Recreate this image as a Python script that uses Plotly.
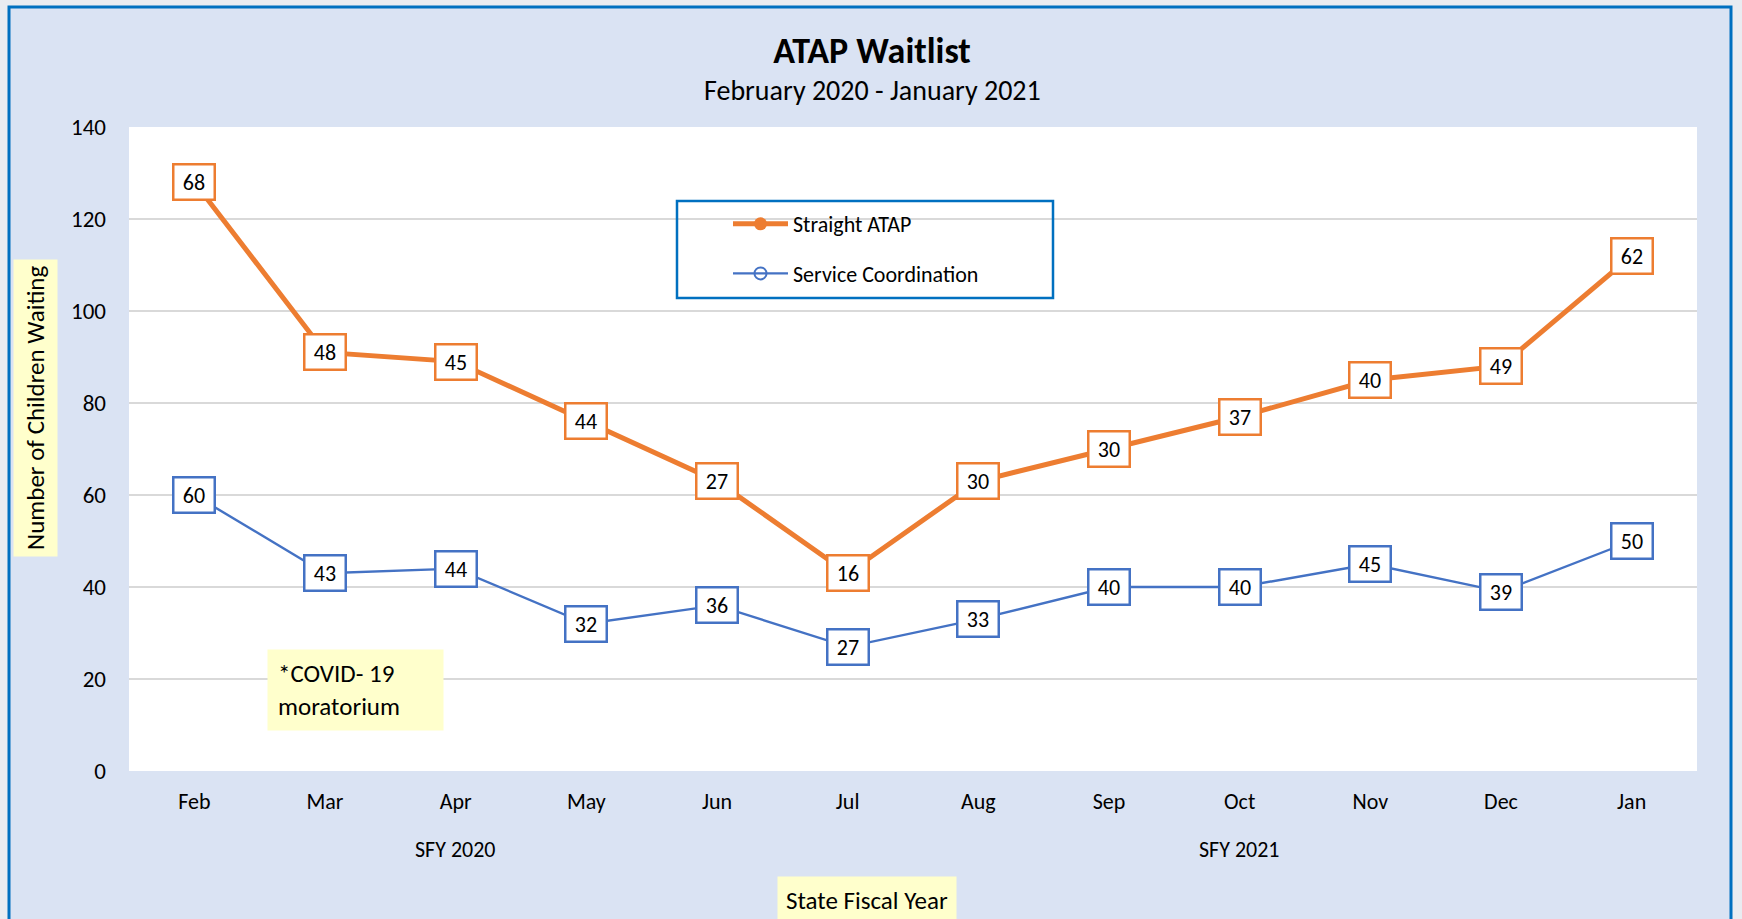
import plotly.graph_objects as go

months = ["Feb", "Mar", "Apr", "May", "Jun", "Jul", "Aug", "Sep", "Oct", "Nov", "Dec", "Jan"]
fiscal_year = ["SFY 2020"] * 5 + ["SFY 2021"] * 7
service_coordination = [60, 43, 44, 32, 36, 27, 33, 40, 40, 45, 39, 50]
straight_atap = [68, 48, 45, 44, 27, 16, 30, 30, 37, 40, 49, 62]
y_ticks = [0, 20, 40, 60, 80, 100, 120, 140]

ORANGE = "#ED7D31"
BLUE = "#4472C4"
FRAME = "#0070C0"
FONT = "Carlito, Lato, sans-serif"

W, H = 1742, 919
L, R, T, B = 129, 45, 127, 148
PW, PH = W - L - R, H - T - B


def px(xp):
    return (xp - L) / PW


def py(yp):
    return (H - B - yp) / PH


x = list(range(len(months)))
fig = go.Figure()
fig.add_trace(go.Scatter(
    x=x, y=service_coordination, name="Service Coordination", stackgroup="s", fill="none",
    mode="lines+markers", line=dict(color=BLUE, width=2.4),
    marker=dict(symbol="circle-open", size=12, color=BLUE, line=dict(width=2)),
    legendrank=2, legendgroup="b"))
fig.add_trace(go.Scatter(
    x=x, y=straight_atap, name="Straight ATAP", stackgroup="s", fill="none",
    mode="lines+markers", line=dict(color=ORANGE, width=5),
    marker=dict(symbol="circle", size=13, color=ORANGE),
    legendrank=1, legendgroup="a"))

LBL = dict(size=22, color="black", family=FONT)
ann = []
for i in x:
    b = service_coordination[i]
    o = straight_atap[i]
    ann.append(dict(x=i, y=b, xref="x", yref="y", text=str(b), showarrow=False,
                    font=LBL, bgcolor="white",
                    bordercolor=BLUE, borderwidth=2.5, borderpad=1, width=37, height=31))
    ann.append(dict(x=i, y=b + o, xref="x", yref="y", text=str(o), showarrow=False,
                    font=LBL, bgcolor="white",
                    bordercolor=ORANGE, borderwidth=2.5, borderpad=1, width=37, height=31))

# fiscal-year group labels
for g in ["SFY 2020", "SFY 2021"]:
    idx = [i for i, f in enumerate(fiscal_year) if f == g]
    ann.append(dict(x=sum(idx) / len(idx), y=py(849), xref="x", yref="paper", yanchor="middle",
                    text=g, showarrow=False, font=dict(size=22, color="black", family=FONT)))

ann.append(dict(x=px(867), y=py(901), xref="paper", yref="paper", xanchor="center", yanchor="middle",
                text="State Fiscal Year", showarrow=False, bgcolor="#FFFFCC", borderpad=8,
                font=dict(size=25, color="black", family=FONT)))
ann.append(dict(x=px(35), y=py(408), xref="paper", yref="paper", xanchor="center", yanchor="middle",
                text="Number of Children Waiting",
                textangle=-90, showarrow=False, bgcolor="#FFFFCC", borderpad=6,
                font=dict(size=25, color="black", family=FONT)))
ann.append(dict(x=px(267), y=py(649), xref="paper", yref="paper", xanchor="left", yanchor="top",
                text="*COVID- 19<br>moratorium", align="left", showarrow=False,
                bgcolor="#FFFFCC", borderpad=10, width=155, height=60,
                font=dict(size=25, color="black", family=FONT)))
ann.append(dict(x=px(872), y=py(90), xref="paper", yref="paper", xanchor="center", yanchor="middle",
                text="February 2020 - January 2021", showarrow=False,
                font=dict(size=28, color="black", family=FONT)))

shapes = [
    dict(type="rect", xref="paper", yref="paper", layer="below",
         x0=px(9), x1=px(1731), y0=py(930), y1=py(7),
         fillcolor="#DAE3F3", line=dict(color=FRAME, width=3)),
    dict(type="rect", xref="paper", yref="paper", layer="below",
         x0=0, x1=1, y0=0, y1=1, fillcolor="white", line=dict(width=0)),
    dict(type="rect", xref="paper", yref="paper", layer="above",
         x0=px(677), x1=px(1053), y0=py(298), y1=py(201),
         fillcolor="rgba(0,0,0,0)", line=dict(color=FRAME, width=2.5)),
    dict(type="rect", xref="paper", yref="paper", layer="below",
         x0=px(677), x1=px(1053), y0=py(298), y1=py(201),
         fillcolor="white", line=dict(width=0)),
]

fig.update_layout(
    width=W, height=H,
    margin=dict(l=L, r=R, t=T, b=B),
    paper_bgcolor="#E9ECF1", plot_bgcolor="white",
    font=dict(family=FONT, size=22, color="black"),
    title=dict(text="<b>ATAP Waitlist</b>",
               x=px(872), xref="paper", xanchor="center", y=1 - 50 / H, yanchor="middle",
               font=dict(size=36, family=FONT, color="black")),
    xaxis=dict(range=[-0.5, len(months) - 0.5], tickvals=x, ticktext=months, showgrid=False,
               zeroline=False, showline=False, ticks="", ticklabelstandoff=15,
               tickfont=dict(size=22, family=FONT)),
    yaxis=dict(range=[0, 140], tickvals=y_ticks, showgrid=True, gridcolor="#D9D9D9", gridwidth=2,
               zeroline=False, showline=False, ticks="", ticklabelstandoff=22,
               tickfont=dict(size=23, family=FONT)),
    legend=dict(x=px(728), y=py(203), xanchor="left", yanchor="top", bgcolor="rgba(0,0,0,0)",
                borderwidth=0, traceorder="grouped", tracegroupgap=18, itemwidth=55,
                font=dict(size=22, family=FONT, color="black")),
    annotations=ann,
    shapes=shapes,
    showlegend=True,
)

fig.write_html("out.html", config={"displayModeBar": False},
               post_script="document.body.style.margin='0';document.body.style.overflow='hidden';")
